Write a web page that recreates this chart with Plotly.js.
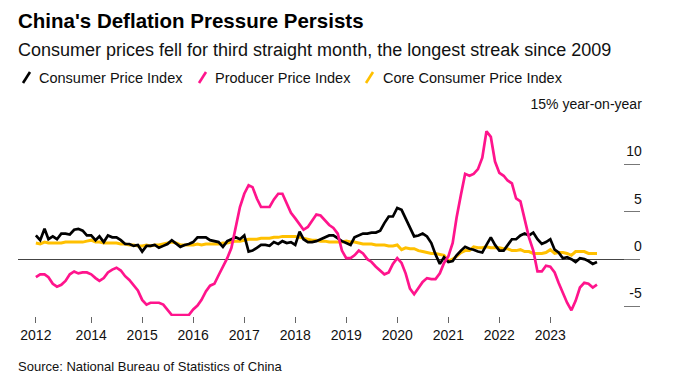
<!DOCTYPE html>
<html>
<head>
<meta charset="utf-8">
<script src="https://cdn.plot.ly/plotly-3.0.1.min.js"></script>
<style>html,body{margin:0;padding:0;background:#fff;}#chart{width:680px;height:391px;}</style>
</head>
<body>
<div id="chart"></div>
<script>
// Monthly data, Dec 2012 to Dec 2023 (year-on-year %)
const startYear = 2012, startMonth = 12, monthCount = 133;

const cpi = [
  2.5,
  2.0, 3.2, 2.1, 2.4, 2.1, 2.7, 2.7, 2.6, 3.1, 3.2, 3.0, 2.5,
  2.5, 2.0, 2.4, 1.8, 2.5, 2.3, 2.3, 2.0, 1.6, 1.6, 1.4, 1.5,
  0.8, 1.4, 1.4, 1.5, 1.2, 1.4, 1.6, 2.0, 1.6, 1.3, 1.5, 1.6,
  1.8, 2.3, 2.3, 2.3, 2.0, 1.9, 1.8, 1.3, 1.9, 2.1, 2.3, 2.1,
  2.5, 0.8, 0.9, 1.2, 1.5, 1.5, 1.4, 1.8, 1.6, 1.9, 1.7, 1.8,
  1.5, 2.9, 2.1, 1.8, 1.8, 1.9, 2.1, 2.3, 2.5, 2.5, 2.2, 1.9,
  1.7, 1.5, 2.3, 2.5, 2.7, 2.7, 2.8, 2.8, 3.0, 3.8, 4.5, 4.5,
  5.4, 5.2, 4.3, 3.3, 2.4, 2.5, 2.7, 2.4, 1.7, 0.5, -0.5, 0.2,
  -0.3, -0.2, 0.4, 0.9, 1.3, 1.1, 1.0, 0.8, 0.7, 1.5, 2.3, 1.5,
  0.9, 0.9, 1.5, 2.1, 2.1, 2.5, 2.7, 2.5, 2.8, 2.1, 1.6, 1.8,
  2.1, 1.0, 0.7, 0.1, 0.2, 0.0, -0.3, 0.1, 0.0, -0.2, -0.5, -0.3
];

const ppi = [
  -1.9,
  -1.6, -1.6, -1.9, -2.6, -2.9, -2.7, -2.3, -1.6, -1.3, -1.5, -1.4, -1.4,
  -1.6, -2.0, -2.3, -2.0, -1.4, -1.1, -0.9, -1.2, -1.8, -2.2, -2.7, -3.3,
  -4.3, -4.8, -4.6, -4.6, -4.6, -4.8, -5.4, -5.9, -5.9, -5.9, -5.9, -5.9,
  -5.3, -4.9, -4.3, -3.4, -2.8, -2.6, -1.7, -0.8, 0.1, 1.2, 3.3, 5.5,
  6.9, 7.8, 7.6, 6.4, 5.5, 5.5, 5.5, 6.3, 6.9, 6.9, 5.8, 4.9,
  4.3, 3.7, 3.1, 3.4, 4.1, 4.7, 4.6, 4.1, 3.6, 3.3, 2.7, 0.9,
  0.1, 0.1, 0.4, 0.9, 0.6, 0.0, -0.3, -0.8, -1.2, -1.6, -1.4, -0.5,
  0.1, -0.4, -1.5, -3.1, -3.7, -3.0, -2.4, -2.0, -2.1, -2.1, -1.5, -0.4,
  0.3, 1.7, 4.4, 6.8, 9.0, 8.8, 9.0, 9.5, 10.7, 13.5, 12.9, 10.3,
  9.1, 8.8, 8.3, 8.0, 6.4, 6.1, 4.2, 2.3, 0.9, -1.3, -1.3, -0.7,
  -0.8, -1.4, -2.5, -3.6, -4.6, -5.4, -4.4, -3.0, -2.5, -2.6, -3.0, -2.7
];

const coreCpi = [
  1.7,
  1.6, 1.8, 1.7, 1.7, 1.7, 1.7, 1.8, 1.8, 1.8, 1.8, 1.8, 1.9,
  2.0, 1.8, 1.8, 1.7, 1.7, 1.7, 1.7, 1.6, 1.6, 1.5, 1.5, 1.4,
  1.4, 1.5, 1.4, 1.5, 1.5, 1.6, 1.7, 1.8, 1.7, 1.5, 1.5, 1.5,
  1.5, 1.6, 1.5, 1.6, 1.6, 1.6, 1.6, 1.7, 1.7, 1.8, 1.9, 1.9,
  2.0, 2.1, 2.1, 2.1, 2.2, 2.2, 2.2, 2.3, 2.3, 2.4, 2.4, 2.4,
  2.4, 2.3, 2.2, 2.1, 2.0, 2.0, 1.9, 1.9, 1.8, 1.8, 1.8, 1.8,
  1.9, 1.8, 1.8, 1.7, 1.6, 1.6, 1.6, 1.5, 1.5, 1.5, 1.4, 1.4,
  1.5, 1.0, 1.2, 1.1, 1.1, 0.9, 0.8, 0.7, 0.6, 0.6, 0.5, 0.4,
  -0.2, 0.0, 0.3, 0.7, 0.9, 0.9, 1.3, 1.2, 1.2, 1.3, 1.2, 1.2,
  1.2, 1.1, 1.1, 0.9, 0.9, 1.0, 0.8, 0.8, 0.6, 0.6, 0.6, 0.7,
  1.0, 0.6, 0.7, 0.7, 0.6, 0.4, 0.8, 0.8, 0.8, 0.6, 0.6, 0.6
];

const xTickVals = ["2012-12-01","2014-01-01","2015-01-01","2016-01-01","2017-01-01","2018-01-01",
                   "2019-01-01","2020-01-01","2021-01-01","2022-01-01","2023-01-01"];
const xTickText = ["2012","2014","2015","2016","2017","2018","2019","2020","2021","2022","2023"];
const yTickVals = [-5, 0, 5, 10, 15];
const yTickText = ["-5", "0", "5", "10", "15% year-on-year"];

const seriesNames = ["Consumer Price Index", "Producer Price Index", "Core Consumer Price Index"];
const seriesColors = ["#000000", "#ff148c", "#ffc000"];

// month dates
const dates = [];
for (let i = 0; i < monthCount; i++) {
  const tot = (startYear * 12 + (startMonth - 1)) + i;
  const y = Math.floor(tot / 12), m = tot % 12 + 1;
  dates.push(y + "-" + String(m).padStart(2, "0") + "-01");
}

const W = 680, H = 391;
const M = {l: 18, r: 40, t: 117, b: 75};
const PW = W - M.l - M.r, PH = H - M.t - M.b;
const px = x => (x - M.l) / PW;
const py = y => (H - M.b - y) / PH;

const FONT = "Liberation Sans, Arial, Helvetica, sans-serif";

const traces = [
  {x: dates, y: coreCpi, name: seriesNames[2], type: "scatter", mode: "lines",
   line: {color: seriesColors[2], width: 3}, hoverinfo: "skip"},
  {x: dates, y: cpi, name: seriesNames[0], type: "scatter", mode: "lines",
   line: {color: seriesColors[0], width: 2.7}, hoverinfo: "skip"},
  {x: dates, y: ppi, name: seriesNames[1], type: "scatter", mode: "lines",
   line: {color: seriesColors[1], width: 2.7}, hoverinfo: "skip"}
];

// legend (manual, slanted strokes)
const legendSlashX = [23, 199, 366];
const legendTextX = [38, 214, 382];
const legendOrder = [0, 1, 2];
const shapes = [];
const annotations = [];
legendOrder.forEach((k, i) => {
  shapes.push({type: "line", xref: "paper", yref: "paper",
    x0: px(legendSlashX[i]), y0: py(83), x1: px(legendSlashX[i] + 7), y1: py(72),
    line: {color: seriesColors[k], width: 2.6}});
  annotations.push({xref: "paper", yref: "paper", x: px(legendTextX[i]), y: py(77.5),
    xanchor: "left", yanchor: "middle", showarrow: false, borderpad: 0,
    text: seriesNames[k], font: {family: FONT, size: 14.5, color: "#111"}});
});

annotations.push({xref: "paper", yref: "paper", x: px(17), y: py(21),
  xanchor: "left", yanchor: "middle", showarrow: false, borderpad: 0,
  text: "<b>China's Deflation Pressure Persists</b>",
  font: {family: FONT, size: 20.5, color: "#000"}});
annotations.push({xref: "paper", yref: "paper", x: px(17), y: py(50),
  xanchor: "left", yanchor: "middle", showarrow: false, borderpad: 0,
  text: "Consumer prices fell for third straight month, the longest streak since 2009",
  font: {family: FONT, size: 18, color: "#111"}});
annotations.push({xref: "paper", yref: "paper", x: px(17), y: py(366),
  xanchor: "left", yanchor: "middle", showarrow: false, borderpad: 0,
  text: "Source: National Bureau of Statistics of China",
  font: {family: FONT, size: 13, color: "#111"}});

const layout = {
  width: W, height: H,
  margin: M,
  paper_bgcolor: "#fff", plot_bgcolor: "#fff",
  showlegend: false,
  xaxis: {
    type: "date",
    range: ["2012-07-26", "2024-10-04"],
    tickmode: "array", tickvals: xTickVals, ticktext: xTickText,
    ticks: "outside", ticklen: 6, tickwidth: 1, tickcolor: "#666",
    showgrid: false, zeroline: false, showline: false,
    tickfont: {family: FONT, size: 14, color: "#111"},
    automargin: false, fixedrange: true
  },
  yaxis: {
    side: "right",
    range: [-6, 15],
    tickmode: "array", tickvals: yTickVals, ticktext: yTickText,
    ticks: "inside", ticklen: 16, tickwidth: 1, tickcolor: "#777",
    ticklabelposition: "inside",
    ticklabeloverflow: "allow",
    ticklabelstandoff: -18,
    ticklabelshift: -13,
    showgrid: false, showline: false,
    zeroline: true, zerolinecolor: "#444", zerolinewidth: 1,
    tickfont: {family: FONT, size: 14, color: "#111"},
    automargin: false, fixedrange: true
  },
  shapes: shapes,
  annotations: annotations
};

Plotly.newPlot("chart", traces, layout, {displayModeBar: false, staticPlot: true});
</script>
</body>
</html>
